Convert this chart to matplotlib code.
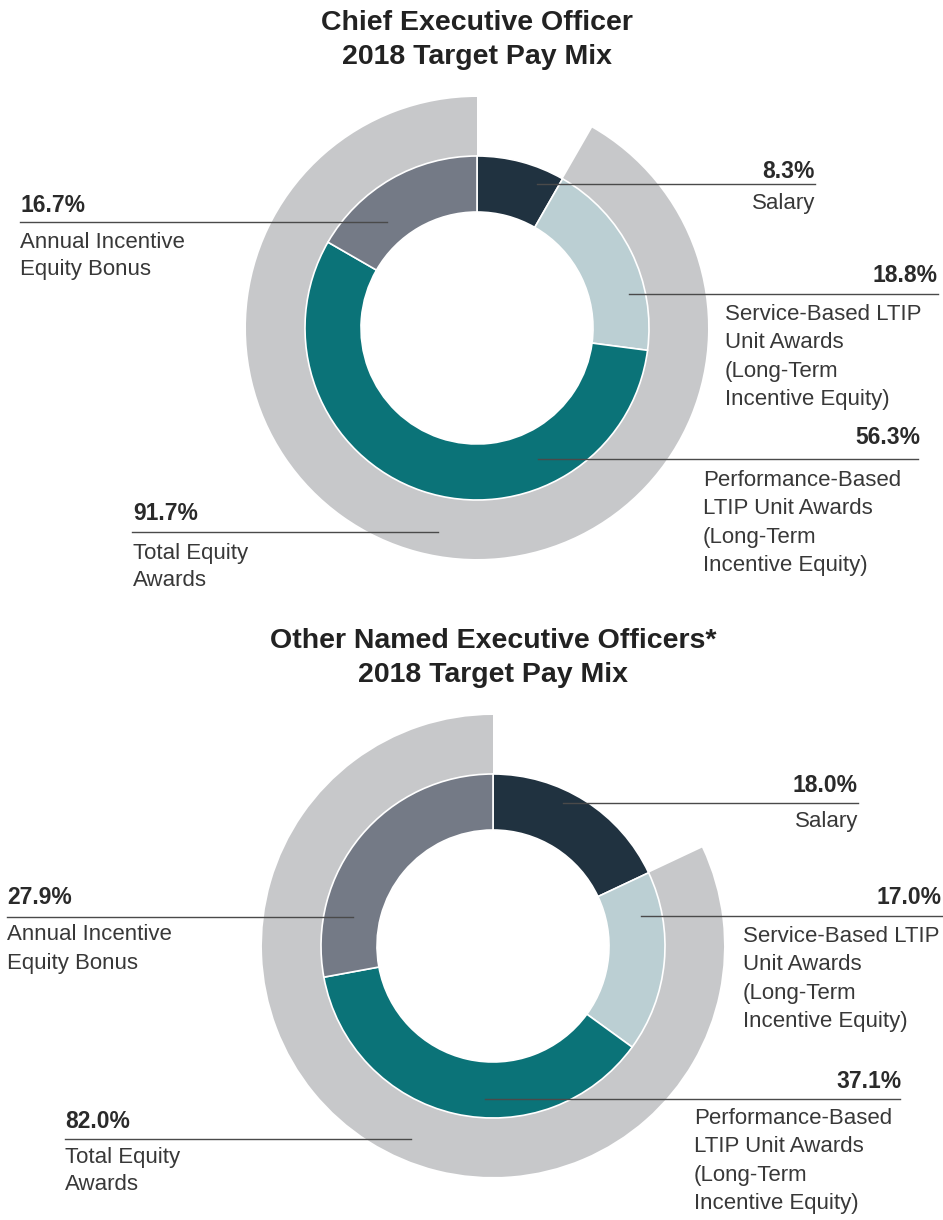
import matplotlib
matplotlib.use("Agg")
import matplotlib.pyplot as plt

plt.rcParams["font.family"] = ["Liberation Sans", "DejaVu Sans"]

# ---- data ----
segments = ["Salary", "Service-Based LTIP", "Performance-Based LTIP", "Annual Incentive"]
ceo_vals = [8.3, 18.8, 56.3, 16.7]
ceo_total_equity = 91.7
neo_vals = [18.0, 17.0, 37.1, 27.9]
neo_total_equity = 82.0

desc = ["Salary",
        "Service-Based LTIP\nUnit Awards\n(Long-Term\nIncentive Equity)",
        "Performance-Based\nLTIP Unit Awards\n(Long-Term\nIncentive Equity)",
        "Annual Incentive\nEquity Bonus",
        "Total Equity\nAwards"]
titles = ["Chief Executive Officer\n2018 Target Pay Mix",
          "Other Named Executive Officers*\n2018 Target Pay Mix"]

COLORS = ["#203240", "#bbcfd3", "#0b7378", "#747a86"]
GRAY = "#c7c8ca"
TXT = "#383838"

W, H = 943, 1220

# layout in pixel coords (top-left origin):
# (pct_x, pct_y, ha, line_x0, line_x1, line_y, desc_x, desc_y, desc_ha)
ceo_layout = [
    (815, 172, "right", 537, 815, 184, 815, 203, "right"),
    (938, 275, "right", 629, 938, 294, 725, 315, "left"),
    (920, 437, "right", 538, 918, 459, 703, 481, "left"),
    (20, 205, "left", 20, 387, 222, 20, 242, "left"),
    (133, 514, "left", 132, 438, 532, 133, 553, "left"),
]
neo_layout = [
    (858, 785, "right", 563, 858, 803, 858, 822, "right"),
    (941, 897, "right", 641, 943, 916, 743, 937, "left"),
    (902, 1081, "right", 485, 900, 1099, 694, 1119, "left"),
    (7, 898, "left", 7, 353, 917, 7, 935, "left"),
    (65, 1121, "left", 65, 411, 1139, 65, 1157, "left"),
]


def Y(y):
    return H - y


def donut(ax, vals, total_eq, center, title_y, title, layout):
    cx, cy = center
    # outer ring = total equity (everything except salary)
    ax.pie([vals[0], total_eq], radius=231, center=(cx, Y(cy)), startangle=90,
           counterclock=False, colors=["none", GRAY], frame=True,
           wedgeprops=dict(width=60, linewidth=0))
    ax.pie(vals, radius=172, center=(cx, Y(cy)), startangle=90, counterclock=False,
           colors=COLORS, frame=True,
           wedgeprops=dict(width=56, edgecolor="white", linewidth=1.2))
    ax.text(cx, Y(title_y), title, ha="center", va="center", fontsize=20.5,
            fontweight="bold", color="#222222", linespacing=1.36)
    pcts = list(vals) + [total_eq]
    for v, d, (px, py, ha, lx0, lx1, ly, dx, dy, dha) in zip(pcts, desc, layout):
        ax.text(px, Y(py), f"{v:.1f}%", ha=ha, va="center", fontsize=16.5,
                fontweight="bold", color="#2a2a2a")
        ax.plot([lx0, lx1], [Y(ly), Y(ly)], color="#4a4a4a", lw=1.0, zorder=5)
        for i, line in enumerate(d.split("\n")):
            ax.text(dx, Y(dy + i * 28), line, ha=dha, va="center", fontsize=16,
                    color=TXT)


fig = plt.figure(figsize=(W / 100, H / 100), dpi=100)
ax = fig.add_axes([0, 0, 1, 1])

donut(ax, ceo_vals, ceo_total_equity, (477, 328), 40, titles[0], ceo_layout)
donut(ax, neo_vals, neo_total_equity, (493, 946), 658, titles[1], neo_layout)

ax.set_xlim(0, W)
ax.set_ylim(0, H)
ax.set_aspect("equal")
ax.axis("off")
fig.savefig("out.png", dpi=100, facecolor="white")
